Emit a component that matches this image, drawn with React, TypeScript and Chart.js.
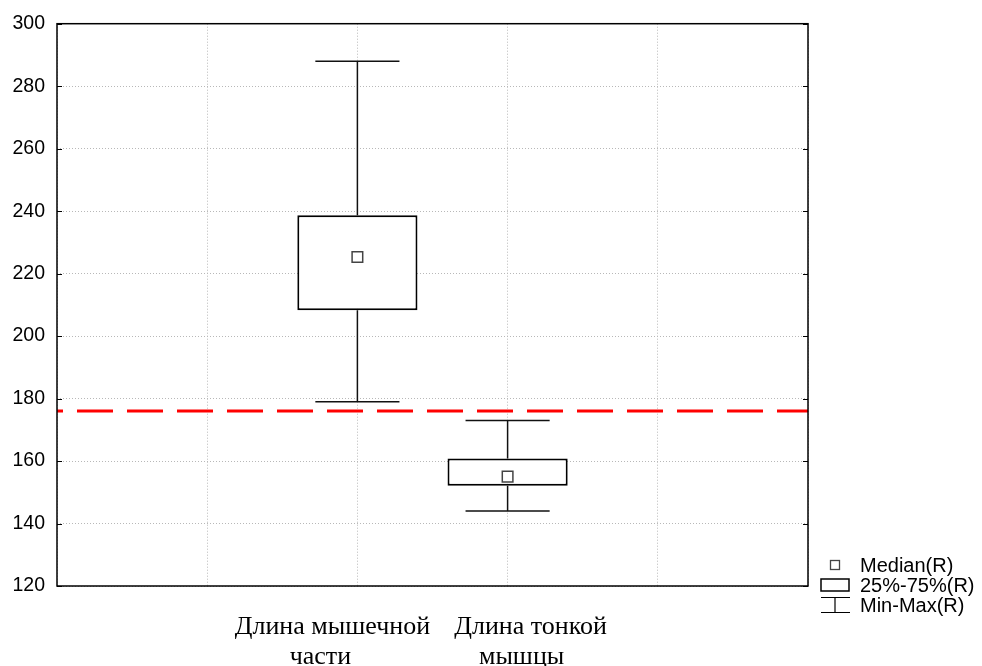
import React, { useEffect, useRef } from 'react';
import { Chart, registerables } from 'chart.js';

Chart.register(...registerables);

// ---- data ----
const categories: string[][] = [
  ['Длина мышечной', 'части'],
  ['Длина тонкой', 'мышцы'],
];
const categoryX = [2, 3];
const minValues = [179, 144];
const q1Values = [208.3, 152.1];
const medianValues = [225.3, 155];
const q3Values = [238.7, 160.8];
const maxValues = [288, 173];
const referenceValue = 176;
const yMin = 120;
const yMax = 300;
const yStep = 20;
const xMin = 0;
const xMax = 5;
const legendLabels = ['Median(R)', '25%-75%(R)', 'Min-Max(R)'];

const CAP_HALF = 0.28;

function buildWhiskers() {
  const pts: { x: number; y: number | null }[] = [];
  categoryX.forEach((x, i) => {
    pts.push({ x, y: q3Values[i] }, { x, y: maxValues[i] }, { x, y: null });
    pts.push({ x: x - CAP_HALF, y: maxValues[i] }, { x: x + CAP_HALF, y: maxValues[i] }, { x, y: null });
    pts.push({ x, y: q1Values[i] }, { x, y: minValues[i] }, { x, y: null });
    pts.push({ x: x - CAP_HALF, y: minValues[i] }, { x: x + CAP_HALF, y: minValues[i] }, { x, y: null });
  });
  return pts;
}

const framePlugin = {
  id: 'frameAndLabels',
  afterDraw(chart: any) {
    const { ctx, chartArea } = chart;
    const { left, right, top, bottom } = chartArea;
    const yScale = chart.scales.y;
    const xScale = chart.scales.x;
    ctx.save();
    // frame
    ctx.strokeStyle = '#000';
    ctx.lineWidth = 1.5;
    ctx.setLineDash([]);
    ctx.strokeRect(left, top, right - left, bottom - top);
    // inward tick marks on left and right
    ctx.lineWidth = 1.2;
    yScale.ticks.forEach((t: any) => {
      const py = Math.round(yScale.getPixelForValue(t.value)) + 0.5;
      ctx.beginPath();
      ctx.moveTo(left, py);
      ctx.lineTo(left + 5, py);
      ctx.moveTo(right - 5, py);
      ctx.lineTo(right, py);
      ctx.stroke();
    });
    // category labels (wrapped lines, slightly shifted as in the original)
    const lineOffsets = [
      [-25, -37],
      [23, 14],
    ];
    ctx.fillStyle = '#000';
    ctx.font = '26px "Liberation Serif", "Times New Roman", serif';
    ctx.textAlign = 'center';
    ctx.textBaseline = 'alphabetic';
    categories.forEach((lines, i) => {
      const px = xScale.getPixelForValue(categoryX[i]);
      lines.forEach((line, j) => {
        ctx.fillText(line, px + lineOffsets[i][j], bottom + 48 + j * 30);
      });
    });
    // legend
    const lx = right + 13;
    const lcx = lx + 14;
    const textX = right + 52;
    const rows = [bottom - 21, bottom - 1, bottom + 19];
    // median symbol
    ctx.strokeStyle = '#444';
    ctx.lineWidth = 1.3;
    ctx.strokeRect(lcx - 4.5, rows[0] - 4.5, 9, 9);
    // box symbol
    ctx.strokeStyle = '#000';
    ctx.lineWidth = 1.5;
    ctx.strokeRect(lx, rows[1] - 6, 28, 12);
    // min-max symbol
    ctx.lineWidth = 1.2;
    ctx.beginPath();
    ctx.moveTo(lx, rows[2] - 7.5);
    ctx.lineTo(lx + 29, rows[2] - 7.5);
    ctx.moveTo(lcx, rows[2] - 7.5);
    ctx.lineTo(lcx, rows[2] + 7.5);
    ctx.moveTo(lx, rows[2] + 7.5);
    ctx.lineTo(lx + 29, rows[2] + 7.5);
    ctx.stroke();
    ctx.font = '20px "Liberation Sans", Arial, sans-serif';
    ctx.textAlign = 'left';
    ctx.textBaseline = 'middle';
    legendLabels.forEach((lab, i) => ctx.fillText(lab, textX, rows[i] + 1));
    ctx.restore();
  },
};

export default function App() {
  const ref = useRef<HTMLCanvasElement | null>(null);
  useEffect(() => {
    if (!ref.current) return;
    const chart = new Chart(ref.current, {
      type: 'bar',
      data: {
        datasets: [
          {
            type: 'line',
            data: [
              { x: xMin, y: referenceValue },
              { x: xMax, y: referenceValue },
            ],
            borderColor: '#ff0000',
            borderWidth: 3,
            borderDash: [36, 14],
            borderDashOffset: 30,
            pointRadius: 0,
            order: 4,
          } as any,
          {
            type: 'line',
            data: buildWhiskers(),
            borderColor: '#111',
            borderWidth: 1.5,
            pointRadius: 0,
            spanGaps: false,
            order: 3,
          } as any,
          {
            type: 'bar',
            data: categoryX.map((x, i) => ({ x, y: [q1Values[i], q3Values[i]] })),
            backgroundColor: '#ffffff',
            borderColor: '#000',
            borderWidth: 2,
            borderSkipped: false,
            categoryPercentage: 1,
            barPercentage: 0.8,
            order: 2,
          } as any,
          {
            type: 'line',
            data: categoryX.map((x, i) => ({ x, y: medianValues[i] })),
            showLine: false,
            pointStyle: 'rect',
            pointRadius: 7.5,
            pointBorderColor: '#444',
            pointBackgroundColor: '#fff',
            pointBorderWidth: 1.5,
            order: 1,
          } as any,
        ],
      },
      options: {
        animation: false,
        responsive: false,
        events: [],
        layout: { padding: { left: 0, top: 19, right: 174, bottom: 0 } },
        plugins: { legend: { display: false }, tooltip: { enabled: false } },
        scales: {
          x: {
            type: 'linear',
            offset: false,
            min: xMin,
            max: xMax,
            ticks: { display: false, stepSize: 1 },
            grid: { color: '#b8b8b8', lineWidth: 1, drawTicks: false, offset: false },
            border: { display: false, dash: [1, 2] },
            afterFit: (s: any) => {
              s.height = 80;
            },
          },
          y: {
            type: 'linear',
            min: yMin,
            max: yMax,
            ticks: {
              stepSize: yStep,
              padding: 12,
              color: '#000',
              font: { family: '"Liberation Sans", Arial, sans-serif', size: 19.5 },
            },
            grid: { color: '#b8b8b8', lineWidth: 1, drawTicks: false },
            border: { display: false, dash: [1, 2] },
            afterFit: (s: any) => {
              s.width = 57;
            },
          },
        },
      } as any,
      plugins: [framePlugin],
    });
    return () => chart.destroy();
  }, []);
  return (
    <canvas
      ref={ref}
      width={982}
      height={666}
      style={{ position: 'fixed', left: 0, top: 0, width: 982, height: 666, background: '#fff' }}
    />
  );
}
